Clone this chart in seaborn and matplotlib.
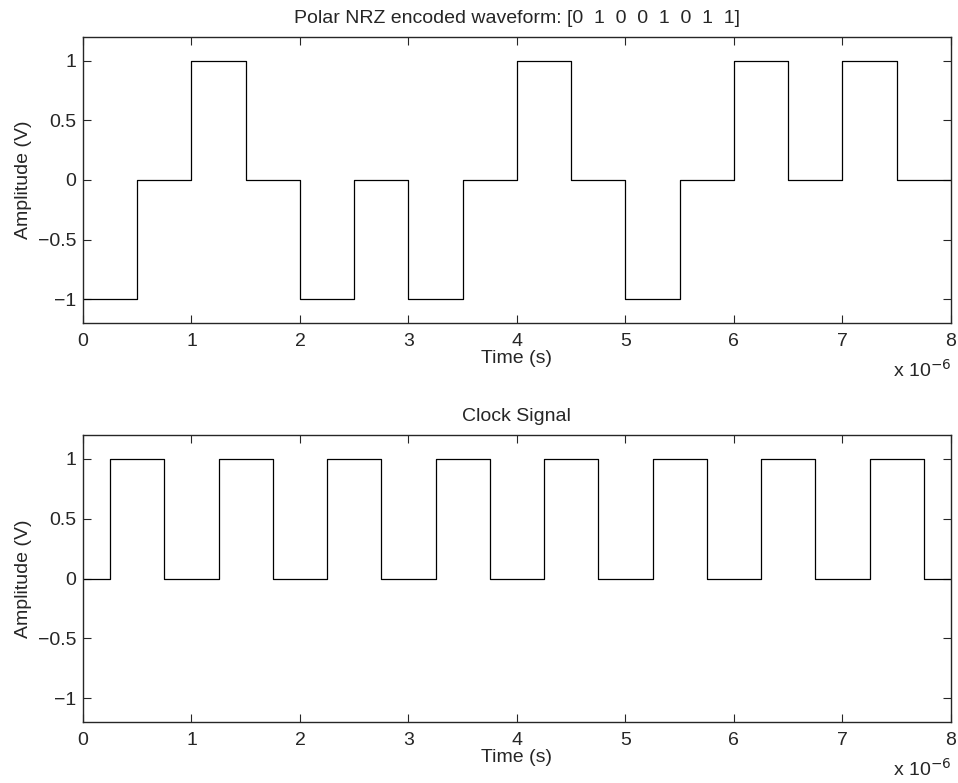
import matplotlib
matplotlib.use("Agg")
import matplotlib.pyplot as plt
import seaborn as sns
import pandas as pd
from matplotlib.ticker import FuncFormatter, MultipleLocator

# Data (time in microseconds, level in volts)
bits_label = "[0  1  0  0  1  0  1  1]"
nrz_time = [0, 0.5, 1, 1.5, 2, 2.5, 3, 3.5, 4, 4.5, 5, 5.5, 6, 6.5, 7, 7.5, 8]
nrz_level = [-1, 0, 1, 0, -1, 0, -1, 0, 1, 0, -1, 0, 1, 0, 1, 0, 0]

clock_time = [0, 0.25, 0.75, 1.25, 1.75, 2.25, 2.75, 3.25, 3.75,
              4.25, 4.75, 5.25, 5.75, 6.25, 6.75, 7.25, 7.75, 8]
clock_level = [0, 1, 0, 1, 0, 1, 0, 1, 0, 1, 0, 1, 0, 1, 0, 1, 0, 0]

y_ticks = [-1, -0.5, 0, 0.5, 1]

sns.set_style("ticks")
plt.rcParams["font.family"] = ["Liberation Sans", "DejaVu Sans"]
plt.rcParams["font.size"] = 14

fig = plt.figure(figsize=(9.58, 7.83), dpi=100)
ax1 = fig.add_axes([0.0866, 0.5875, 0.906, 0.3653])
ax2 = fig.add_axes([0.0866, 0.0779, 0.906, 0.3665])

nrz_df = pd.DataFrame({"t": [t * 1e-6 for t in nrz_time], "v": nrz_level})
clock_df = pd.DataFrame({"t": [t * 1e-6 for t in clock_time], "v": clock_level})

sns.lineplot(data=nrz_df, x="t", y="v", ax=ax1, color="black",
             linewidth=0.9, drawstyle="steps-post")
sns.lineplot(data=clock_df, x="t", y="v", ax=ax2, color="black",
             linewidth=0.9, drawstyle="steps-post")

titles = ["Polar NRZ encoded waveform: " + bits_label, "Clock Signal"]
for ax, title in zip([ax1, ax2], titles):
    ax.set_xlim(0, 8e-6)
    ax.set_ylim(-1.2, 1.2)
    ax.set_yticks(y_ticks)
    ax.set_yticklabels(["\u22121", "\u22120.5", "0", "0.5", "1"])
    ax.xaxis.set_major_locator(MultipleLocator(1e-6))
    ax.xaxis.set_major_formatter(FuncFormatter(lambda v, p: f"{v * 1e6:g}"))
    ax.tick_params(direction="in", length=6, width=0.8, top=True, right=True,
                   labelsize=14)
    ax.tick_params(axis="x", pad=7)
    ax.tick_params(axis="y", pad=5)
    for s in ax.spines.values():
        s.set_linewidth(1.0)
        s.set_visible(True)
    ax.set_xlabel("Time (s)", fontsize=14, labelpad=0)
    ax.set_ylabel("Amplitude (V)", fontsize=14, labelpad=4)
    ax.set_title(title, fontsize=14, pad=10)
    ax.text(1.0, -0.125, "x 10$^{-6}$", transform=ax.transAxes,
            ha="right", va="top", fontsize=14)

fig.savefig("out.png", dpi=100)
